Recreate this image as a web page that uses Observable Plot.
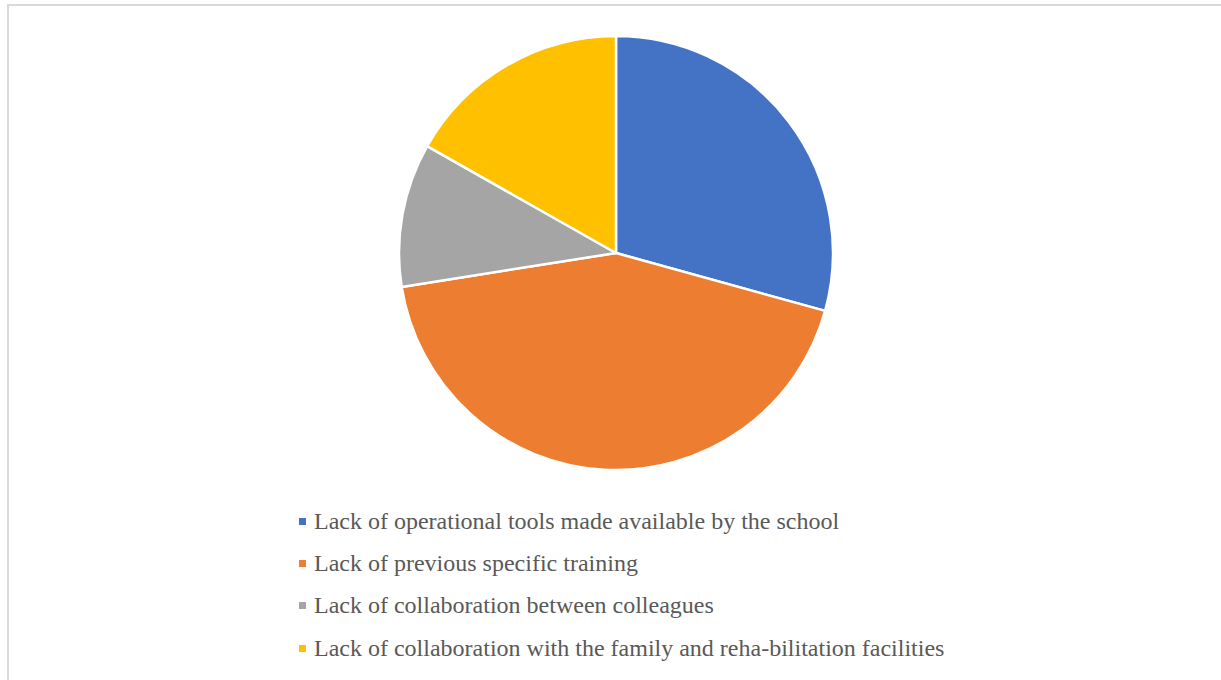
<!DOCTYPE html>
<html>
<head>
<meta charset="utf-8">
<script src="https://cdn.jsdelivr.net/npm/d3@7"></script>
<script src="https://cdn.jsdelivr.net/npm/@observablehq/plot@0.6"></script>
<style>
  html, body { margin: 0; padding: 0; background: #fff; }
  #wrap { position: relative; width: 1221px; height: 680px; overflow: hidden; }
  #frame { position: absolute; left: 7px; top: 4px; width: 1300px; height: 800px;
           border-top: 2px solid #d9d9d9; border-left: 2px solid #d9d9d9; }
  #chart { position: absolute; left: 0; top: 0; }
  #legend { position: absolute; left: 299px; top: 500px; font-family: "Liberation Serif", "Times New Roman", serif;
            font-size: 24px; color: #595959; }
  .row { display: flex; align-items: center; height: 42.3px; white-space: nowrap; }
  .sw { width: 7px; height: 7px; margin-right: 8px; flex: none; }
</style>
</head>
<body>
<div id="wrap">
  <div id="frame"></div>
  <div id="chart"></div>
  <div id="legend"></div>
</div>
<script>
const categories = [
  "Lack of operational tools made available by the school",
  "Lack of previous specific training",
  "Lack of collaboration between colleagues",
  "Lack of collaboration with the family and reha-bilitation facilities"
];
const values = [29.3, 43.2, 10.7, 16.8];
const colors = ["#4472c4", "#ed7d31", "#a5a5a5", "#ffc000"];

const data = categories.map((c, i) => ({category: c, value: values[i]}));

const pieMark = (index, scales, vals, dims) => {
  const x = scales.x, y = scales.y, color = scales.color;
  const cx = x(0), cy = y(0), r = x(1) - x(0);
  const arcs = d3.pie().sort(null).value(d => d.value)(data);
  const arc = d3.arc().innerRadius(0).outerRadius(r);
  const g = d3.create("svg:g").attr("transform", `translate(${cx},${cy})`);
  g.selectAll("path").data(arcs).join("path")
    .attr("d", arc)
    .attr("fill", d => color(d.data.category))
    .attr("stroke", "#fff")
    .attr("stroke-width", 2.5)
    .attr("stroke-linejoin", "round");
  return g.node();
};

const plot = Plot.plot({
  width: 1221,
  height: 490,
  margin: 0,
  x: {domain: [-1, 1], range: [399, 833], axis: null},
  y: {domain: [-1, 1], range: [470, 36], axis: null},
  color: {domain: categories, range: colors},
  marks: [pieMark]
});
plot.style.background = "transparent";
document.getElementById("chart").appendChild(plot);

const legend = d3.select("#legend");
categories.forEach((c, i) => {
  const row = legend.append("div").attr("class", "row");
  row.append("div").attr("class", "sw").style("background", colors[i]);
  row.append("span").text(c);
});
</script>
</body>
</html>
